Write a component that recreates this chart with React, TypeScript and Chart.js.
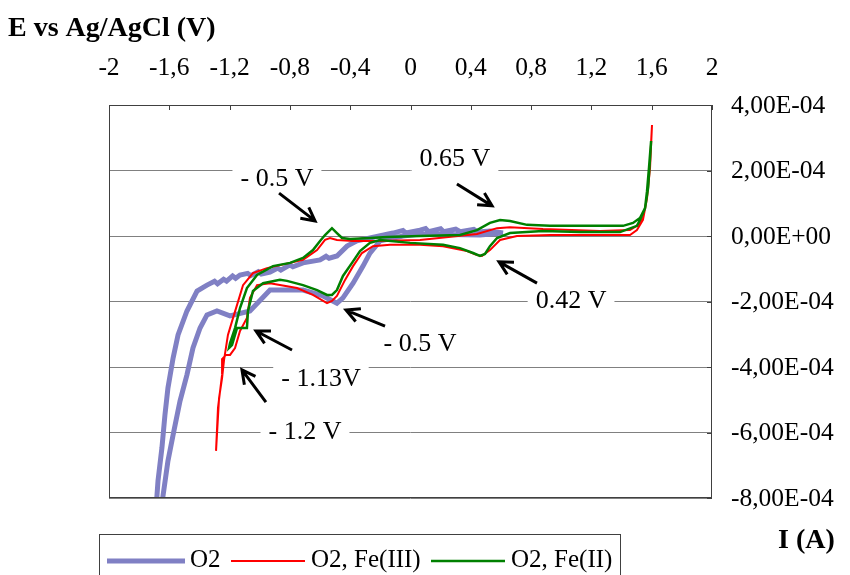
import React, { useEffect, useRef } from "react";
import { Chart, registerables } from "chart.js";
Chart.register(...registerables);

// Axis ticks
const xTickValues = [-2, -1.6, -1.2, -0.8, -0.4, 0, 0.4, 0.8, 1.2, 1.6, 2];
const xTickLabels = ["-2", "-1,6", "-1,2", "-0,8", "-0,4", "0", "0,4", "0,8", "1,2", "1,6", "2"];
// current in units of 1e-4 A
const yTickValues = [4, 2, 0, -2, -4, -6, -8];
const yTickLabels = ["4,00E-04", "2,00E-04", "0,00E+00", "-2,00E-04", "-4,00E-04", "-6,00E-04", "-8,00E-04"];

const xTitle = "E vs Ag/AgCl (V)";
const yTitle = "I (A)";
const seriesNames = ["O2", "O2, Fe(III)", "O2, Fe(II)"];
const seriesColors = ["rgb(128,128,196)", "#ff0000", "#008000"];
const seriesWidths = [5, 2, 2.5];

// O2 (potential V, current 1e-4 A)
const o2Potential = [
  0.614, 0.461, 0.063, -0.05, -0.202, -0.269, -0.315, -0.381, -0.448, -0.488, -0.58, -0.713, -0.932, -1.065,
  -1.197, -1.284, -1.35, -1.396, -1.443, -1.483, -1.529, -1.575, -1.609, -1.642, -1.662, -1.682,
  -1.695, -1.682, -1.675, -1.649, -1.629, -1.609, -1.575, -1.542, -1.483, -1.416, -1.35, -1.3, -1.28, -1.24,
  -1.22, -1.18, -1.16, -1.131, -1.08, -1.06, -1.01, -0.99, -0.932, -0.88, -0.86, -0.8, -0.78, -0.713, -0.6,
  -0.56, -0.54, -0.488, -0.421, -0.355, -0.269, -0.116, -0.05, -0.03, 0.063, 0.1, 0.12, 0.2, 0.22, 0.3, 0.33,
  0.42, 0.45, 0.527, 0.614,
];
const o2Current = [
  0.09, 0.03, 0.06, 0.0, -0.15, -0.52, -0.92, -1.44, -1.89, -2.05, -1.83, -1.65, -1.65, -2.29,
  -2.44, -2.29, -2.41, -2.81, -3.42, -4.24, -5.04, -6.08, -6.87, -7.94, -8.61, -9.22,
  -8.61, -7.94, -7.48, -6.47, -5.47, -4.64, -3.73, -3.02, -2.29, -1.68, -1.5, -1.38, -1.46, -1.32,
  -1.38, -1.22, -1.29, -1.19, -1.14, -1.21, -1.09, -1.16, -1.1, -0.98, -1.04, -0.88, -0.94, -0.82, -0.73,
  -0.62, -0.68, -0.61, -0.31, -0.15, -0.06, 0.09, 0.17, 0.09, 0.18, 0.23, 0.13, 0.22, 0.13, 0.21, 0.13,
  0.2, 0.12, 0.15, 0.09,
];

// O2, Fe(III)
const fe3Potential = [
  1.602, 1.589, 1.569, 1.542, 1.502, 1.456, 1.257, 0.925, 0.706, 0.594, 0.527, 0.474, 0.441, 0.375, 0.216,
  0.063, -0.136, -0.249, -0.322, -0.381, -0.434, -0.488, -0.521, -0.554, -0.647, -0.753, -0.932, -1.018,
  -1.065, -1.085, -1.131, -1.164, -1.197, -1.224, -1.244, -1.25, -1.277, -1.29,
  -1.27, -1.25, -1.237, -1.211, -1.177, -1.151, -1.111, -1.045, -0.952, -0.713, -0.62, -0.567, -0.534,
  -0.488, -0.381, -0.222, 0.063, 0.441, 0.574, 0.66, 0.879, 1.257, 1.456, 1.502, 1.542, 1.569, 1.589, 1.602,
];
const fe3Current = [
  3.39, 2.08, 1.16, 0.49, 0.18, 0.03, 0.03, 0.03, 0.0, -0.12, -0.43, -0.61, -0.58, -0.46, -0.31,
  -0.27, -0.27, -0.31, -0.52, -0.92, -1.34, -1.83, -1.98, -2.05, -1.8, -1.59, -1.44, -1.5,
  -1.89, -2.5, -2.9, -3.42, -3.63, -3.63, -3.73, -4.24, -5.25, -6.56,
  -4.95, -4.34, -3.79, -3.02, -2.5, -2.11, -1.5, -1.13, -0.98, -0.73, -0.43, -0.12, -0.06,
  -0.12, -0.15, -0.15, -0.12, 0.06, 0.24, 0.27, 0.21, 0.15, 0.18, 0.31, 0.55, 1.16, 2.23, 3.39,
];

// O2, Fe(II)
const fe2Potential = [
  1.596, 1.589, 1.576, 1.556, 1.522, 1.502, 1.39, 1.124, 0.879, 0.66, 0.574, 0.527, 0.494, 0.461, 0.415,
  0.328, 0.216, -0.003, -0.202, -0.269, -0.335, -0.388, -0.448, -0.488, -0.521, -0.554, -0.62, -0.713,
  -0.819, -0.866, -0.978, -1.045, -1.078, -1.085, -1.151, -1.184, -1.204,
  -1.197, -1.164, -1.131, -1.085, -1.018, -0.912, -0.799, -0.713, -0.647, -0.6, -0.567, -0.521, -0.488,
  -0.454, -0.401, -0.269, -0.156, 0.063, 0.328, 0.441, 0.527, 0.594, 0.66, 0.773, 0.925, 1.257, 1.41,
  1.476, 1.522, 1.556, 1.569, 1.582, 1.596,
];
const fe2Current = [
  2.9, 2.38, 1.47, 0.85, 0.49, 0.31, 0.12, 0.12, 0.15, 0.09, -0.06, -0.31, -0.55, -0.61, -0.52,
  -0.37, -0.27, -0.21, -0.12, -0.21, -0.46, -0.82, -1.22, -1.65, -1.8, -1.8, -1.65, -1.5,
  -1.37, -1.34, -1.44, -1.68, -2.29, -2.81, -2.81, -3.33, -3.42,
  -3.27, -2.81, -2.2, -1.59, -1.19, -0.92, -0.82, -0.67, -0.43, -0.15, 0.03, 0.24, 0.09,
  -0.06, -0.09, -0.06, -0.03, 0.0, 0.03, 0.18, 0.4, 0.49, 0.46, 0.34, 0.31, 0.31, 0.31,
  0.4, 0.55, 0.85, 1.37, 2.08, 2.9,
];

// Annotations (data units)
const noteTexts = ["- 0.5 V", "0.65 V", "0.42 V", "- 0.5 V", "- 1.13V", "- 1.2 V"];
const notePotential = [-0.886, 0.295, 1.065, 0.063, -0.594, -0.7];
const noteCurrent = [1.77, 2.38, -1.95, -3.27, -4.34, -5.95];
const arrowTailPotential = [-0.872, 0.308, 0.839, -0.169, -0.786, -0.959];
const arrowTailCurrent = [1.31, 1.59, -1.44, -2.75, -3.48, -5.07];
const arrowHeadPotential = [-0.633, 0.541, 0.587, -0.428, -1.025, -1.118];
const arrowHeadCurrent = [0.46, 0.92, -0.79, -2.26, -2.9, -4.09];

const FONT = "'Liberation Serif', 'Times New Roman', serif";

const zip = (xs: number[], ys: number[]) => xs.map((v, i) => ({ x: v, y: ys[i] }));

const decoPlugin = {
  id: "deco",
  afterDatasetsDraw(chart: any) {
    const { ctx, chartArea: a } = chart;
    const xs = chart.scales.x;
    const ys = chart.scales.y;
    ctx.save();

    // frame
    ctx.strokeStyle = "#404040";
    ctx.lineWidth = 1;
    ctx.strokeRect(Math.round(a.left) + 0.5, Math.round(a.top) + 0.5, Math.round(a.right - a.left) - 1, Math.round(a.bottom - a.top) - 1);

    // tick marks (inside)
    ctx.beginPath();
    xTickValues.forEach((v) => {
      const px = Math.round(xs.getPixelForValue(v)) + 0.5;
      ctx.moveTo(px, a.top);
      ctx.lineTo(px, a.top + 5);
    });
    yTickValues.forEach((v) => {
      const py = Math.round(ys.getPixelForValue(v)) + 0.5;
      ctx.moveTo(a.right, py);
      ctx.lineTo(a.right - 5, py);
    });
    ctx.stroke();

    // tick labels
    ctx.fillStyle = "#000";
    ctx.font = `25.5px ${FONT}`;
    ctx.textAlign = "center";
    ctx.textBaseline = "middle";
    xTickValues.forEach((v, i) => {
      ctx.fillText(xTickLabels[i], xs.getPixelForValue(v), 68);
    });
    ctx.textAlign = "left";
    yTickValues.forEach((v, i) => {
      ctx.fillText(yTickLabels[i], 731, ys.getPixelForValue(v) + 1);
    });

    // axis titles
    ctx.font = `bold 28px ${FONT}`;
    ctx.textAlign = "left";
    ctx.fillText(xTitle, 8, 29);
    ctx.fillText(yTitle, 778, 541);

    // annotations
    ctx.font = `26px ${FONT}`;
    ctx.textAlign = "center";
    noteTexts.forEach((t, i) => {
      const cx = xs.getPixelForValue(notePotential[i]);
      const cy = ys.getPixelForValue(noteCurrent[i]);
      const w = ctx.measureText(t).width + 16;
      ctx.fillStyle = "#fff";
      ctx.fillRect(cx - w / 2, cy - 16, w, 32);
      ctx.fillStyle = "#000";
      ctx.fillText(t, cx, cy + 1);
    });

    // arrows
    ctx.strokeStyle = "#000";
    ctx.lineWidth = 3;
    ctx.lineCap = "butt";
    ctx.lineJoin = "miter";
    arrowTailPotential.forEach((_, i) => {
      const x0 = xs.getPixelForValue(arrowTailPotential[i]);
      const y0 = ys.getPixelForValue(arrowTailCurrent[i]);
      const x1 = xs.getPixelForValue(arrowHeadPotential[i]);
      const y1 = ys.getPixelForValue(arrowHeadCurrent[i]);
      const ang = Math.atan2(y1 - y0, x1 - x0);
      const hl = 15;
      ctx.beginPath();
      ctx.moveTo(x0, y0);
      ctx.lineTo(x1, y1);
      ctx.moveTo(x1 - hl * Math.cos(ang - 0.48), y1 - hl * Math.sin(ang - 0.48));
      ctx.lineTo(x1, y1);
      ctx.lineTo(x1 - hl * Math.cos(ang + 0.48), y1 - hl * Math.sin(ang + 0.48));
      ctx.stroke();
    });

    // legend
    ctx.lineWidth = 1;
    ctx.strokeStyle = "#404040";
    ctx.strokeRect(99.5, 534.5, 521, 60);
    const lineX0 = [107, 231, 431];
    const lineX1 = [185, 305, 505];
    const textX = [190, 311, 511];
    ctx.font = `25px ${FONT}`;
    ctx.textAlign = "left";
    ctx.textBaseline = "middle";
    chart.data.datasets.forEach((ds: any, i: number) => {
      ctx.strokeStyle = ds.borderColor;
      ctx.lineWidth = ds.borderWidth;
      ctx.beginPath();
      ctx.moveTo(lineX0[i], 561);
      ctx.lineTo(lineX1[i], 561);
      ctx.stroke();
      ctx.fillStyle = "#000";
      ctx.fillText(ds.label, textX[i], 560);
    });

    ctx.restore();
  },
};

export default function App() {
  const ref = useRef<HTMLCanvasElement>(null);
  useEffect(() => {
    if (!ref.current) return;
    const chart = new Chart(ref.current, {
      type: "scatter",
      data: {
        datasets: [
          { label: seriesNames[0], data: zip(o2Potential, o2Current), order: 3 },
          { label: seriesNames[1], data: zip(fe3Potential, fe3Current), order: 2 },
          { label: seriesNames[2], data: zip(fe2Potential, fe2Current), order: 1 },
        ].map((d, i) => ({
          ...d,
          showLine: true,
          borderColor: seriesColors[i],
          backgroundColor: seriesColors[i],
          borderWidth: seriesWidths[i],
          pointRadius: 0,
          pointHoverRadius: 0,
          tension: 0,
          clip: 0,
        })),
      },
      options: {
        animation: false,
        responsive: false,
        events: [],
        layout: { padding: { left: 109, right: 138, top: 105, bottom: 77 } },
        plugins: { legend: { display: false }, tooltip: { enabled: false } },
        scales: {
          x: {
            type: "linear",
            display: false,
            min: -2,
            max: 2,
          },
          y: {
            type: "linear",
            position: "right",
            min: -8,
            max: 4,
            afterBuildTicks: (s: any) => {
              s.ticks = yTickValues.map((v) => ({ value: v }));
            },
            ticks: { display: false },
            grid: { color: "#808080", lineWidth: 1, drawTicks: false },
            border: { display: false },
          },
        },
      },
      plugins: [decoPlugin],
    });
    return () => chart.destroy();
  }, []);
  return (
    <div style={{ position: "absolute", left: 0, top: 0, width: 850, height: 575, background: "#fff" }}>
      <canvas ref={ref} width={850} height={575} style={{ display: "block" }} />
    </div>
  );
}
